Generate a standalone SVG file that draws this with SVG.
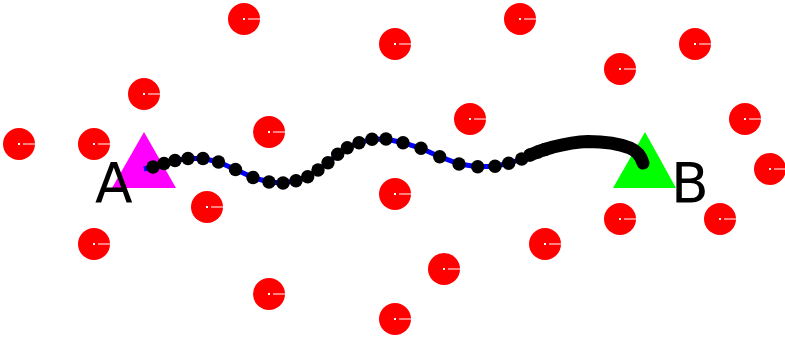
<svg xmlns="http://www.w3.org/2000/svg" xmlns:xlink="http://www.w3.org/1999/xlink" width="785" height="340" viewBox="0 0 785 340">
  <style>
    .obs-body { fill: #ff0000; }
    .obs-tick { stroke: #ffffff; stroke-width: 1; }
    .obs-dot { fill: #ffffff; }
    .label { font-family: "DejaVu Sans", "Liberation Sans", sans-serif; font-size: 55px; fill: #000000; }
    .route { fill: none; stroke: #0000ff; stroke-width: 5; stroke-linejoin: round; }
    .bead { fill: #000000; }
    .dense { fill: none; stroke: #000000; stroke-width: 13; stroke-linecap: round; stroke-linejoin: round; }
  </style>
  <defs>
    <!-- obstacle: red disc with heading tick and centre mark -->
    <g id="obstacle">
      <circle class="obs-body" cx="0" cy="0" r="16"/>
      <line class="obs-tick" x1="4" y1="0" x2="16" y2="0"/>
      <rect class="obs-dot" x="-1" y="-1" width="2" height="2"/>
    </g>
  </defs>
  <rect width="785" height="340" fill="#ffffff"/>

  <!-- obstacles -->
  <g id="obs-1"><use xlink:href="#obstacle" x="244" y="19"/></g>
  <g id="obs-2"><use xlink:href="#obstacle" x="144" y="94"/></g>
  <g id="obs-3"><use xlink:href="#obstacle" x="19" y="144"/></g>
  <g id="obs-4"><use xlink:href="#obstacle" x="94" y="144"/></g>
  <g id="obs-5"><use xlink:href="#obstacle" x="207" y="207"/></g>
  <g id="obs-6"><use xlink:href="#obstacle" x="94" y="244"/></g>
  <g id="obs-7"><use xlink:href="#obstacle" x="395" y="44"/></g>
  <g id="obs-8"><use xlink:href="#obstacle" x="520" y="19"/></g>
  <g id="obs-9"><use xlink:href="#obstacle" x="269" y="132"/></g>
  <g id="obs-10"><use xlink:href="#obstacle" x="470" y="119"/></g>
  <g id="obs-11"><use xlink:href="#obstacle" x="395" y="194"/></g>
  <g id="obs-12"><use xlink:href="#obstacle" x="444" y="269"/></g>
  <g id="obs-13"><use xlink:href="#obstacle" x="269" y="294"/></g>
  <g id="obs-14"><use xlink:href="#obstacle" x="395" y="319"/></g>
  <g id="obs-15"><use xlink:href="#obstacle" x="695" y="44"/></g>
  <g id="obs-16"><use xlink:href="#obstacle" x="620" y="69"/></g>
  <g id="obs-17"><use xlink:href="#obstacle" x="745" y="119"/></g>
  <g id="obs-18"><use xlink:href="#obstacle" x="770" y="169"/></g>
  <g id="obs-19"><use xlink:href="#obstacle" x="620" y="219"/></g>
  <g id="obs-20"><use xlink:href="#obstacle" x="720" y="219"/></g>
  <g id="obs-21"><use xlink:href="#obstacle" x="545" y="244"/></g>

  <!-- start and goal -->
  <g id="start-A">
    <polygon points="144,132 176,188 112,188" fill="#ff00ff"/>
    <text class="label" x="95" y="202">A</text>
  </g>
  <g id="goal-B">
    <polygon points="645,132 676,188 613,188" fill="#00ff00"/>
    <text class="label" x="671" y="202">B</text>
  </g>

  <!-- planned route with waypoints -->
  <g id="connectors">
    <polyline class="route" points="144,169 153,167 164,163.5 175,160.5 188,158.5 203,158.5 218.5,162 235.5,169.5 253,177.5 269,182 283,183 296,180.7 307.7,176.7 318,170 328,162.7 337.7,154.3 347.3,147.7 359,142.7 372,139.3 386,139 403,142.7 421,148.3 439.7,156.7 459,164 477.7,166.7 495,166.3 508.7,163.3 521.7,159 530,155 540,151 553,147 567,144 583,141.5 600,142 615,144 627,147 636,151 641,157 643,163"/>
    <path class="dense" d="M530,155 L540,151 L553,147 C565,144 575,142 588,141.5 C605,141.5 620,144 630,148 C637,151 641,156 643,163"/>
    <g class="bead">
      <circle cx="153" cy="167" r="6.7"/>
      <circle cx="164" cy="163.5" r="6.7"/>
      <circle cx="175" cy="160.5" r="6.7"/>
      <circle cx="188" cy="158.5" r="6.7"/>
      <circle cx="203" cy="158.5" r="6.7"/>
      <circle cx="218.5" cy="162" r="6.7"/>
      <circle cx="235.5" cy="169.5" r="6.7"/>
      <circle cx="253" cy="177.5" r="6.7"/>
      <circle cx="269" cy="182" r="6.7"/>
      <circle cx="283" cy="183" r="6.7"/>
      <circle cx="296" cy="180.7" r="6.7"/>
      <circle cx="307.7" cy="176.7" r="6.7"/>
      <circle cx="318" cy="170" r="6.7"/>
      <circle cx="328" cy="162.7" r="6.7"/>
      <circle cx="337.7" cy="154.3" r="6.7"/>
      <circle cx="347.3" cy="147.7" r="6.7"/>
      <circle cx="359" cy="142.7" r="6.7"/>
      <circle cx="372" cy="139.3" r="6.7"/>
      <circle cx="386" cy="139" r="6.7"/>
      <circle cx="403" cy="142.7" r="6.7"/>
      <circle cx="421" cy="148.3" r="6.7"/>
      <circle cx="439.7" cy="156.7" r="6.7"/>
      <circle cx="459" cy="164" r="6.7"/>
      <circle cx="477.7" cy="166.7" r="6.7"/>
      <circle cx="495" cy="166.3" r="6.7"/>
      <circle cx="508.7" cy="163.3" r="6.7"/>
      <circle cx="521.7" cy="159" r="6.7"/>
      <circle cx="530" cy="155" r="6.7"/>
      <circle cx="538" cy="152" r="6.7"/>
      <circle cx="545" cy="149.5" r="6.7"/>
    </g>
  </g>
</svg>
